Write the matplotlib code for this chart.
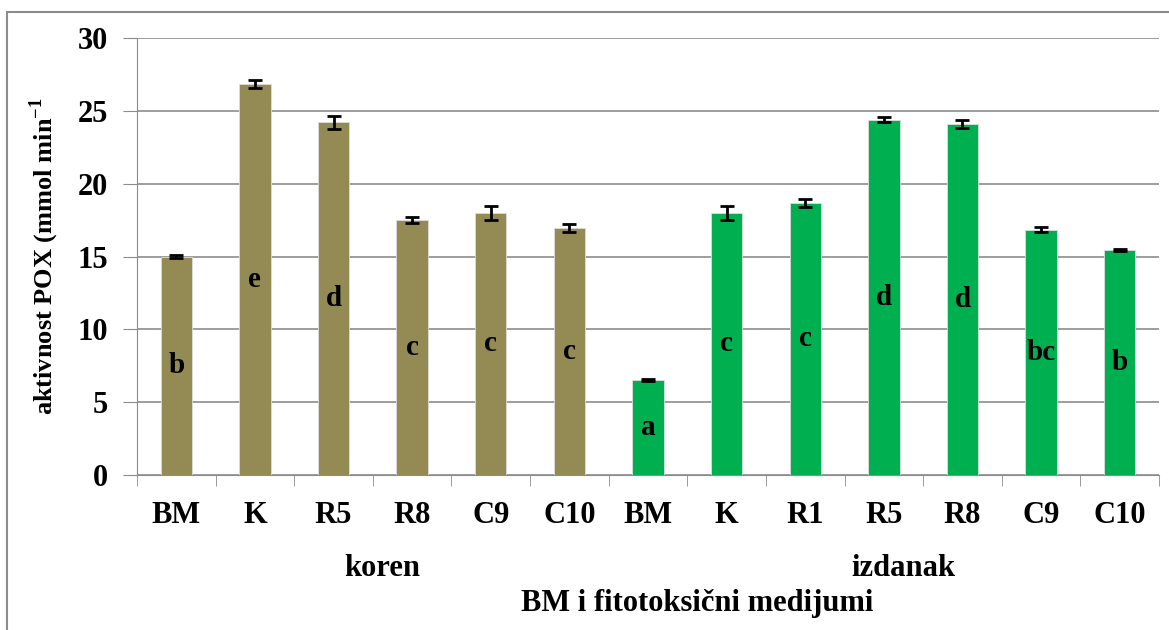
"""
POX activity in root (koren) and shoot (izdanak) on BM and phytotoxic media
"""

import numpy as np
import matplotlib
matplotlib.use('Agg')
import matplotlib.pyplot as plt
from matplotlib.patches import Rectangle

## data
koren_labels = ['BM', 'K', 'R5', 'R8', 'C9', 'C10']
koren_values = [15.0, 26.85, 24.2, 17.5, 18.0, 16.95]
koren_err = [0.08, 0.27, 0.42, 0.2, 0.5, 0.3]
koren_letters = ['b', 'e', 'd', 'c', 'c', 'c']

izdanak_labels = ['BM', 'K', 'R1', 'R5', 'R8', 'C9', 'C10']
izdanak_values = [6.5, 18.0, 18.7, 24.4, 24.1, 16.85, 15.45]
izdanak_err = [0.06, 0.5, 0.27, 0.18, 0.3, 0.2, 0.08]
izdanak_letters = ['a', 'c', 'c', 'd', 'd', 'bc', 'b']

plt.rcParams['font.family'] = ['Liberation Serif', 'DejaVu Serif']
plt.rcParams['font.weight'] = 'bold'
plt.rcParams['mathtext.fontset'] = 'custom'
plt.rcParams['mathtext.rm'] = 'Liberation Serif:bold'
plt.rcParams['mathtext.bf'] = 'Liberation Serif:bold'

labels = koren_labels + izdanak_labels
values = koren_values + izdanak_values
errs = koren_err + izdanak_err
letters = koren_letters + izdanak_letters
colors = ['#948A54'] * len(koren_values) + ['#00B050'] * len(izdanak_values)
x = np.arange(len(labels))

W, H = 1169, 630
fig = plt.figure(figsize=(W / 100, H / 100), dpi=100)
ax = fig.add_axes([137 / W, 1 - 475 / H, (1159 - 137) / W, (475 - 38) / H])

ax.bar(x, values, width=0.4, color=colors, edgecolor='#dddddd',
       linewidth=0.6, zorder=3)
ax.errorbar(x, values, yerr=errs, fmt='none', ecolor='black', elinewidth=2,
            capsize=5, capthick=2, zorder=4)

## significance letters at half bar height
for xi, v, let in zip(x, values, letters):
    ax.text(xi, v / 2, let, ha='center', va='center', fontsize=21,
            fontweight='bold', zorder=5)

ax.set_xlim(-0.5, len(labels) - 0.5)
ax.set_ylim(0, 30)
ax.set_yticks(np.arange(0, 31, 5))
ax.grid(axis='y', color='#8c8c8c', linewidth=1.2, zorder=0)

ax.set_xticks(x)
ax.set_xticklabels(labels, fontsize=22, fontweight='bold')
ax.tick_params(axis='x', length=0, pad=19)
ax.set_xticks(np.arange(-0.5, len(labels), 1), minor=True)
ax.tick_params(axis='x', which='minor', length=8, color='#8c8c8c')
ax.tick_params(axis='y', labelsize=22, length=10, color='#8c8c8c', pad=11)
for t in ax.get_yticklabels():
    t.set_fontweight('bold')

for s in ['top', 'right']:
    ax.spines[s].set_visible(False)
for s in ['left', 'bottom']:
    ax.spines[s].set_color('#8c8c8c')

ax.set_ylabel('aktivnost POX (mmol min$^{-1}$', fontsize=19,
              fontweight='bold', labelpad=12)

## group labels and axis title
fig.text(382 / W, 1 - 568 / H, 'koren', ha='center', va='center',
         fontsize=22, fontweight='bold')
fig.text(903 / W, 1 - 568 / H, 'izdanak', ha='center', va='center',
         fontsize=22, fontweight='bold')
fig.text(697 / W, 1 - 604 / H, 'BM i fitotoksični medijumi',
         ha='center', va='center', fontsize=22, fontweight='bold')

## chart frame (only left and top edges are inside the picture)
fig.patches.append(Rectangle((7 / W, -0.2), 1.5, 1.2 - 12 / H,
                             transform=fig.transFigure, fill=False,
                             edgecolor='#8c8c8c', linewidth=1.5))

fig.savefig('out.png', dpi=100)
